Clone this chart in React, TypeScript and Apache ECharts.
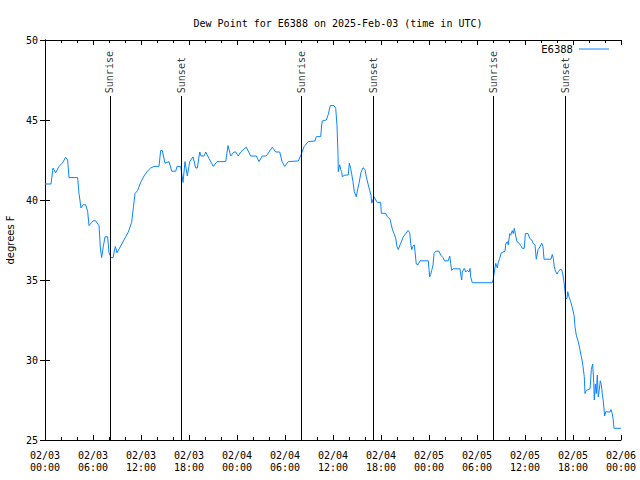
import React, { useEffect, useRef } from "react";
import * as echarts from "echarts";

// hours since 2025-02-03 00:00 UTC
const hours = [
  0, 0.75, 1.0, 1.33, 1.75, 2.17, 2.58, 2.83, 3.0, 4.08, 4.25, 4.5, 4.75, 5.08, 5.33, 5.5, 6.0, 6.33, 6.75, 6.92,
  7.08, 7.29, 7.5, 7.83, 8.0, 8.25, 8.5, 8.79, 9.0, 10.41, 10.83, 11.25, 11.58, 11.96, 12.38, 12.79, 13.21, 13.63, 14.25, 14.46,
  14.66, 15.0, 15.5, 15.84, 16.34, 16.5, 16.96, 17.25, 17.5, 17.79, 18.09, 18.5, 18.84, 19.04, 19.34, 19.5, 19.88, 20.09, 20.5, 21.04,
  21.5, 22.59, 22.88, 23.21, 23.63, 23.84, 24.16, 24.46, 25.16, 25.71, 26.41, 26.75, 27.16, 27.66, 28.0, 28.41, 28.84, 29.34, 29.63, 29.96,
  30.41, 31.66, 31.96, 32.38, 32.91, 33.75, 33.91, 34.46, 34.59, 34.66, 35.16, 35.41, 35.66, 36.13, 36.34, 36.5, 36.63, 36.66, 36.84, 36.96,
  37.09, 37.16, 37.5, 37.91, 38.04, 38.21, 38.34, 38.5, 38.66, 38.91, 39.09, 39.25, 39.5, 39.75, 40.0, 40.16, 40.41, 40.59, 40.75, 40.84,
  41.13, 41.34, 41.54, 41.96, 42.04, 42.59, 42.79, 43.13, 43.29, 43.46, 43.63, 43.84, 44.0, 44.16, 44.46, 44.79, 45.09, 45.38, 45.59, 45.71,
  45.84, 46.0, 46.16, 46.25, 46.41, 46.63, 46.88, 47.91, 48.0, 48.09, 48.21, 48.34, 48.5, 48.63, 48.84, 49.25, 49.46, 49.75, 49.96, 50.41,
  50.59, 50.71, 50.84, 51.0, 51.88, 51.96, 52.09, 52.16, 52.41, 52.59, 52.79, 53.0, 53.13, 53.21, 53.41, 55.91, 56.04, 56.13, 56.34, 56.54,
  56.66, 56.84, 57.0, 57.25, 57.5, 57.59, 57.79, 57.91, 58.09, 58.21, 58.41, 58.54, 58.66, 58.84, 59.0, 59.25, 59.54, 59.66, 59.91, 60.04,
  60.38, 60.59, 60.84, 61.0, 61.25, 61.41, 61.63, 61.88, 62.09, 62.25, 62.38, 63.25, 63.41, 63.54, 63.66, 63.84, 64.0, 64.16, 64.41, 64.59,
  64.75, 64.91, 65.0, 65.09, 65.25, 65.34, 65.5, 65.71, 65.91, 66.13, 66.25, 66.41, 66.59, 66.75, 66.88, 67.0, 67.13, 67.25, 67.41, 67.5,
  67.66, 67.91, 68.13, 68.29, 68.46, 68.59, 68.66, 68.79, 68.91, 69.04, 69.16, 69.29, 69.41, 69.54, 69.66, 69.79, 69.96, 70.09, 70.38, 70.63,
  70.75, 70.88, 71.0, 71.13, 71.91, 72.0,
];

const dewPoint = [
  41.0, 41.0, 42.0, 41.7, 42.1, 42.3, 42.67, 42.5, 41.4, 41.4, 40.4, 39.5, 39.7, 39.7, 39.3, 38.4, 38.7, 38.7, 38.4, 37.0,
  36.4, 37.1, 37.7, 37.7, 36.7, 36.4, 36.4, 37.1, 36.7, 38.0, 38.6, 40.4, 40.6, 41.1, 41.5, 41.8, 42.0, 42.1, 42.1, 43.1,
  43.1, 42.3, 42.4, 41.8, 41.8, 42.1, 42.1, 41.1, 42.4, 41.5, 42.4, 42.7, 42.0, 42.0, 43.0, 42.75, 42.75, 43.0, 42.6, 42.1,
  42.4, 42.4, 43.4, 42.75, 43.0, 43.0, 42.75, 43.0, 43.3, 42.75, 42.75, 42.4, 42.75, 42.75, 43.0, 43.3, 43.0, 43.0, 42.4, 42.1,
  42.4, 42.44, 42.77, 43.33, 43.65, 43.69, 43.96, 43.96, 44.69, 44.94, 45.0, 45.35, 45.9, 45.9, 45.73, 44.64, 42.8, 41.77, 42.2, 41.9,
  41.77, 41.46, 41.56, 41.56, 42.3, 41.98, 41.6, 41.14, 40.52, 40.2, 40.7, 41.04, 41.73, 42.02, 41.9, 41.46, 40.94, 40.6, 40.3, 39.8,
  40.2, 40.0, 39.85, 39.85, 39.17, 39.17, 38.96, 38.8, 38.44, 38.1, 37.9, 37.6, 37.08, 36.9, 37.3, 37.7, 37.9, 38.1, 37.95, 37.3,
  36.9, 37.1, 37.2, 36.8, 36.0, 35.95, 36.2, 36.2, 35.67, 35.2, 35.35, 35.6, 35.94, 36.67, 36.8, 36.8, 36.55, 36.4, 36.2, 36.2,
  36.5, 36.05, 35.6, 35.7, 35.7, 35.35, 35.0, 35.5, 35.73, 35.5, 35.6, 35.5, 35.73, 35.2, 34.83, 34.83, 35.05, 35.4, 36.04, 35.75,
  36.1, 36.35, 36.67, 36.75, 36.8, 37.25, 37.4, 37.2, 37.9, 37.8, 38.08, 37.9, 38.23, 37.75, 37.4, 37.3, 37.1, 36.98, 36.98, 37.9,
  37.9, 37.6, 37.5, 37.3, 37.2, 36.3, 36.9, 37.08, 37.3, 37.08, 36.3, 36.3, 36.6, 36.35, 35.83, 35.52, 35.37, 35.52, 35.67, 35.63,
  35.3, 34.75, 34.27, 33.85, 33.85, 34.27, 33.95, 33.64, 33.29, 32.8, 32.08, 31.56, 31.25, 30.94, 30.6, 30.3, 30.0, 29.6, 28.96, 27.9,
  28.1, 28.15, 28.2, 29.4, 29.75, 28.6, 27.5, 28.5, 27.9, 29.06, 27.7, 28.15, 28.7, 28.45, 27.9, 27.4, 26.5, 26.77, 26.75, 26.75,
  26.9, 26.7, 26.35, 25.73, 25.73, 25.73,
];

const eventNames = ["Sunrise", "Sunset", "Sunrise", "Sunset", "Sunrise", "Sunset"];
const eventHours = [8.12, 17.0, 32.02, 41.02, 56.0, 65.02];
const eventLineTop = 46.5;
const eventLabelBase = 46.55;

const seriesName = "E6388";
const titleText = "Dew Point for E6388 on 2025-Feb-03 (time in UTC)";
const yMin = 25;
const yMax = 50;
const xMin = 0;
const xMax = 72;

const MONO = "'DejaVu Sans Mono', monospace";
const SANS = "'DejaVu Sans', sans-serif";

function fmtX(v: number): string {
  const day = 3 + Math.floor(v / 24);
  const hr = Math.round(v % 24);
  return "02/0" + day + "\n" + String(hr).padStart(2, "0") + ":00";
}

export default function App() {
  const ref = useRef<HTMLDivElement>(null);
  useEffect(() => {
    if (!ref.current) return;
    const chart = echarts.init(ref.current, undefined, { renderer: "svg" });
    const data = hours.map((h, i) => [h, dewPoint[i]]);
    const tickCommon = {
      axisLine: { show: true, lineStyle: { color: "#000", width: 1 } },
      axisTick: { show: true, inside: true, length: 5, lineStyle: { color: "#000" } },
      splitLine: { show: false },
    };
    chart.setOption({
      animation: false,
      backgroundColor: "#fff",
      title: {
        text: titleText,
        left: 333,
        textAlign: "center",
        top: 13,
        textStyle: { fontFamily: MONO, fontSize: 10, fontWeight: "normal", color: "#000" },
      },
      legend: {
        data: [{ name: seriesName, icon: "rect" }],
        right: 31,
        top: 44,
        padding: 0,
        itemWidth: 30,
        itemHeight: 1,
        align: "right",
        textStyle: { fontFamily: SANS, fontSize: 10, color: "#000", padding: [0, 1, 0, 0] },
      },
      grid: {
        left: 45,
        right: 19,
        top: 40,
        bottom: 40,
        containLabel: false,
        outerBoundsMode: "none",
      },
      xAxis: [
        {
          type: "value",
          min: xMin,
          max: xMax,
          interval: 6,
          ...tickCommon,
          minorTick: { show: true, splitNumber: 3, length: 3, lineStyle: { color: "#000" } },
          axisLabel: {
            formatter: fmtX,
            fontFamily: MONO,
            fontSize: 10,
            color: "#000",
            lineHeight: 12,
            margin: 9,
          },
        },
        {
          type: "value",
          position: "top",
          min: xMin,
          max: xMax,
          interval: 6,
          ...tickCommon,
          minorTick: { show: true, splitNumber: 3, length: 3, lineStyle: { color: "#000" } },
          axisLabel: { show: false },
        },
      ],
      yAxis: [
        {
          type: "value",
          min: yMin,
          max: yMax,
          interval: 5,
          ...tickCommon,
          name: "degrees F",
          nameLocation: "middle",
          nameGap: 30,
          nameTextStyle: { fontFamily: SANS, fontSize: 10, color: "#000" },
          axisLabel: { fontFamily: MONO, fontSize: 10, color: "#000", margin: 7 },
        },
        {
          type: "value",
          position: "right",
          min: yMin,
          max: yMax,
          interval: 5,
          ...tickCommon,
          axisLabel: { show: false },
        },
      ],
      series: [
        {
          name: seriesName,
          type: "line",
          data,
          showSymbol: false,
          symbol: "none",
          color: "#0a85ff",
          lineStyle: { color: "#0a85ff", width: 1 },
          markLine: {
            silent: true,
            symbol: "none",
            label: { show: false },
            lineStyle: { color: "#000", width: 1, type: "solid" },
            data: eventHours.map((h) => [{ coord: [h, yMin] }, { coord: [h, eventLineTop] }]),
          },
        },
        {
          name: "events",
          type: "scatter",
          silent: true,
          symbolSize: 0,
          data: eventHours.map((h, i) => [h, eventLabelBase, eventNames[i]]),
          label: {
            show: true,
            position: "inside",
            rotate: 90,
            align: "left",
            verticalAlign: "middle",
            offset: [2, 0],
            formatter: (p: any) => p.data[2],
            fontFamily: MONO,
            fontSize: 10,
            color: "#000",
          },
        },
      ],
    });
    return () => chart.dispose();
  }, []);
  return (
    <div
      ref={ref}
      style={{ position: "fixed", left: 0, top: 0, width: 640, height: 480, background: "#fff" }}
    />
  );
}
